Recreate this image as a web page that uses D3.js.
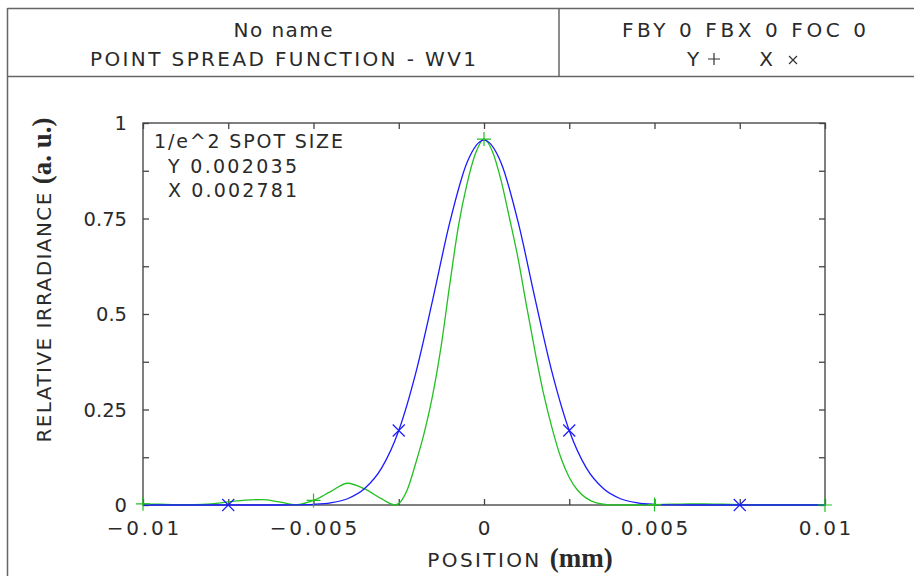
<!DOCTYPE html>
<html><head><meta charset="utf-8">
<script src="https://cdn.jsdelivr.net/npm/d3@7"></script>
<style>
html,body{margin:0;padding:0;background:#fff;}
text{font-family:"DejaVu Sans",sans-serif;fill:#2a2a2a;}
</style></head>
<body>
<svg id="chart" width="914" height="576"></svg>
<script>
// ---- data ----
const positionsY = [-0.01,-0.0095,-0.009,-0.0085,-0.008,-0.0075,-0.007,-0.0065,-0.006,-0.0055,-0.005,-0.0045,-0.004,-0.0035,-0.003,-0.0026,-0.00225,-0.002,-0.00175,-0.0015,-0.00125,-0.001,-0.00075,-0.0005,-0.00025,0,0.00025,0.0005,0.00075,0.001,0.00125,0.0015,0.00175,0.002,0.00225,0.0025,0.00275,0.003,0.00325,0.0035,0.00375,0.004,0.0045,0.005,0.0055,0.006,0.0065,0.007,0.0075,0.008,0.0085,0.009,0.0095,0.01];
const psfY = [0.003,0.002,0.001,0.001,0.003,0.008,0.013,0.014,0.008,0.001,0.012,0.035,0.057,0.042,0.016,0.0,0.04,0.11,0.19,0.29,0.42,0.58,0.73,0.84,0.92,0.958,0.925,0.85,0.75,0.645,0.52,0.40,0.29,0.20,0.125,0.072,0.038,0.018,0.007,0.002,0.0003,0.0,0.0,0.001,0.002,0.003,0.003,0.002,0.001,0.0,0.0,0.0,0.0,0.0];
const positionsX = [-0.01,-0.0095,-0.009,-0.0085,-0.008,-0.0075,-0.007,-0.0065,-0.006,-0.0055,-0.005,-0.0045,-0.004,-0.0035,-0.003,-0.0025,-0.002,-0.0015,-0.001,-0.0005,0,0.0005,0.001,0.0015,0.002,0.0025,0.003,0.0035,0.004,0.0045,0.005,0.0055,0.006,0.0065,0.007,0.0075,0.008,0.0085,0.009,0.0095,0.01];
const psfX = [0,0,0,0,0,0,0,0,0,0.0004,0.0017,0.0056,0.0164,0.043,0.097,0.195,0.346,0.539,0.741,0.896,0.955,0.896,0.741,0.539,0.346,0.195,0.097,0.043,0.0164,0.0056,0.0017,0.0004,0,0,0,0,0,0,0,0,0];
const markersY = [-0.01,-0.005,0,0.005,0.01];
const markersX = [-0.0075,-0.0025,0.0025,0.0075];
const xTickLabels = ["-0.01","-0.005","0","0.005","0.01"];
const xTickValues = [-0.01,-0.005,0,0.005,0.01];
const yTickLabels = ["0","0.25","0.5","0.75","1"];
const yTickValues = [0,0.25,0.5,0.75,1];
const titleLines = ["No name","POINT SPREAD FUNCTION - WV1"];
const infoLines = ["FBY 0 FBX 0 FOC 0"];
const spotLines = ["1/e^2 SPOT SIZE","Y 0.002035","X 0.002781"];

const svg = d3.select("#chart");
const W=914,H=576;
const L=143,R=825,T=123,B=505;
const x = d3.scaleLinear().domain([-0.01,0.01]).range([L,R]);
const y = d3.scaleLinear().domain([0,1]).range([B,T]);
const frame="#666";
const BLUE="#1a1aff", GREEN="#22c022";

// frame
svg.append("line").attr("x1",7.5).attr("x2",W).attr("y1",8.5).attr("y2",8.5).attr("stroke",frame).attr("stroke-width",1.5);
svg.append("line").attr("x1",7.5).attr("x2",W).attr("y1",76.5).attr("y2",76.5).attr("stroke",frame).attr("stroke-width",1.5);
svg.append("line").attr("x1",7.5).attr("x2",7.5).attr("y1",8).attr("y2",H).attr("stroke",frame).attr("stroke-width",1.5);
svg.append("line").attr("x1",559).attr("x2",559).attr("y1",8).attr("y2",77).attr("stroke",frame).attr("stroke-width",1.5);

function txt(s,xx,yy,anchor,size,len){
  const t=svg.append("text").attr("x",xx).attr("y",yy).attr("text-anchor",anchor||"start")
    .attr("font-size",size||19).text(s);
  if(len) t.attr("textLength",len).attr("lengthAdjust","spacing");
  return t;
}
txt(titleLines[0],283,37,"middle",20,99);
txt(titleLines[1],283,66,"middle",20,386);
txt(infoLines[0],744,37,"middle",20,244);
txt("Y",693,66,"middle",20);
txt("X",766,66,"middle",20);
function plus(g,cx,cy,s,col){g.append("path").attr("d",`M${cx-s},${cy}H${cx+s}M${cx},${cy-s}V${cy+s}`).attr("stroke",col).attr("stroke-width",1.2).attr("fill","none");}
function cross(g,cx,cy,s,col){g.append("path").attr("d",`M${cx-s},${cy-s}L${cx+s},${cy+s}M${cx-s},${cy+s}L${cx+s},${cy-s}`).attr("stroke",col).attr("stroke-width",1.2).attr("fill","none");}
plus(svg,714,59,6,"#333");
cross(svg,793,60,4,"#333");

// axes box
svg.append("rect").attr("x",L).attr("y",T).attr("width",R-L).attr("height",B-T).attr("fill","none").attr("stroke","#555").attr("stroke-width",1.5);
const xt = d3.range(-0.01,0.01001,0.0025);
const yt = d3.range(0,1.0001,0.125);
const axB = d3.axisBottom(x).tickValues(xt).tickSize(-6).tickFormat("");
const axT = d3.axisTop(x).tickValues(xt).tickSize(-6).tickFormat("");
const axL = d3.axisLeft(y).tickValues(yt).tickSize(-6).tickFormat("");
const axR = d3.axisRight(y).tickValues(yt).tickSize(-6).tickFormat("");
[[axB,`translate(0,${B})`],[axT,`translate(0,${T})`],[axL,`translate(${L},0)`],[axR,`translate(${R},0)`]].forEach(([a,tr])=>{
  const g=svg.append("g").attr("transform",tr).call(a);
  g.select(".domain").remove();
  g.selectAll(".tick line").attr("stroke","#444").attr("stroke-width",1.3);
});

// tick labels
xTickValues.forEach((v,i)=>{
  const t=txt(xTickLabels[i].replace("-","\u2212"),x(v),535,"middle",20);
  const n=t.node().getComputedTextLength();
  t.attr("textLength",n*1.18).attr("lengthAdjust","spacing");
});
yTickValues.forEach((v,i)=>{
  txt(yTickLabels[i],127,y(v)+7,"end",19.5);
});

// axis titles
const xtl=svg.append("text").attr("x",520).attr("y",567).attr("text-anchor","middle").attr("font-size",20);
xtl.append("tspan").attr("textLength",112).attr("lengthAdjust","spacing").text("POSITION");
xtl.append("tspan").attr("dx",8).attr("font-family","'Liberation Serif',serif").attr("font-weight","bold").attr("font-size",27).text("(mm)");
const ytl=svg.append("text").attr("transform","translate(51,280) rotate(-90)").attr("text-anchor","middle").attr("font-size",20);
ytl.append("tspan").attr("textLength",250).attr("lengthAdjust","spacing").text("RELATIVE IRRADIANCE");
ytl.append("tspan").attr("dx",7).attr("font-family","'Liberation Serif',serif").attr("font-weight","bold").attr("font-size",27).text("(a. u.)");

// spot size text
txt(spotLines[0],154,148,"start",19,189);
txt(spotLines[1],168,173,"start",19,129);
txt(spotLines[2],168,197,"start",19,129);

// curves
const line=d3.line().x(d=>x(d[0])).y(d=>y(d[1])).curve(d3.curveMonotoneX);
const gY = positionsY.map((p,i)=>[p,psfY[i]]);
const gX = positionsX.map((p,i)=>[p,psfX[i]]);
svg.append("path").attr("d",line(gY)).attr("fill","none").attr("stroke",GREEN).attr("stroke-width",1.3);
svg.append("path").attr("d",line(gX)).attr("fill","none").attr("stroke",BLUE).attr("stroke-width",1.3);
const at=(ps,arr,p)=>arr[ps.findIndex(q=>Math.abs(q-p)<1e-9)];
markersY.forEach(p=>plus(svg,x(p),y(at(positionsY,psfY,p)),7,GREEN));
markersX.forEach(p=>cross(svg,x(p),y(at(positionsX,psfX,p)),6,BLUE));
</script>
</body></html>
